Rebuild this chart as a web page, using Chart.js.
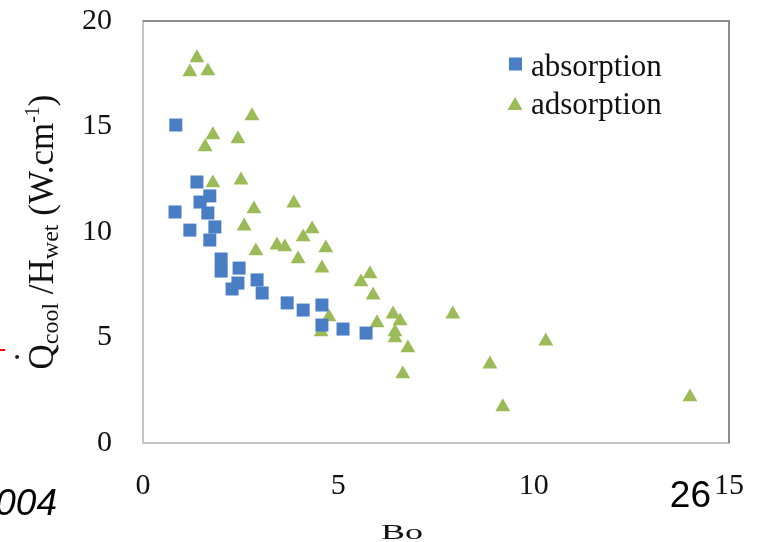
<!DOCTYPE html>
<html>
<head>
<meta charset="utf-8">
<script src="https://cdn.jsdelivr.net/npm/chart.js@4.4.0/dist/chart.umd.min.js"></script>
<style>
    body { margin: 0; background: #fff; }
</style>
</head>
<body>
<canvas id="boChart" width="757" height="542"></canvas>
<script>
// values
const absorptionBo = [0.84, 0.82, 1.20, 1.38, 1.46, 1.71, 1.66, 1.84, 1.71, 2.00, 2.00, 2.46, 2.43, 2.28, 2.92, 3.05, 3.69, 4.10, 4.58, 4.58, 5.12, 5.71];
const absorptionQ = [15.07, 10.95, 10.09, 12.37, 11.42, 11.71, 10.90, 10.24, 9.62, 8.72, 8.15, 8.29, 7.58, 7.30, 7.73, 7.11, 6.64, 6.30, 6.54, 5.59, 5.40, 5.21];

const adsorptionBo = [1.38, 1.20, 1.66, 2.79, 1.79, 2.43, 1.59, 2.51, 1.79, 2.84, 3.86, 2.59, 4.33, 4.10, 3.43, 3.63, 2.89, 4.68, 3.97, 4.58, 5.81, 5.58, 5.89, 4.76, 4.56, 5.99, 6.40, 6.58, 6.45, 6.45, 6.78, 6.65, 7.93, 10.31, 8.88, 9.21, 14.0];
const adsorptionQ = [18.25, 17.58, 17.63, 15.50, 14.60, 14.41, 14.03, 12.46, 12.32, 11.09, 11.37, 10.28, 10.14, 9.76, 9.38, 9.29, 9.10, 9.24, 8.72, 8.29, 8.01, 7.63, 7.01, 5.97, 5.26, 5.69, 6.11, 5.78, 5.26, 4.98, 4.50, 3.27, 6.11, 4.83, 3.74, 1.71, 2.18];

const seriesNames = ['absorption', 'adsorption'];
const xTicks = [0, 5, 10, 15];
const yTicks = [0, 5, 10, 15, 20];

const blue = '#4a7ec4';
const green = '#9bbb59';
const serif = '"Liberation Serif", "Times New Roman", serif';

function toPoints(xs, ys) {
    return xs.map((x, i) => ({ x: x, y: ys[i] }));
}

function marker(ctx, style, x, y, color) {
    ctx.fillStyle = color;
    ctx.beginPath();
    if (style === 'rect') {
        ctx.rect(x - 6.5, y - 6.5, 13, 13);
    } else {
        ctx.moveTo(x, y - 7);
        ctx.lineTo(x + 7.5, y + 6);
        ctx.lineTo(x - 7.5, y + 6);
        ctx.closePath();
    }
    ctx.fill();
}

// top/right frame, legend, axis titles and the slide leftovers
const extras = {
    id: 'extras',
    beforeDatasetsDraw(chart) {
        const { ctx, chartArea: a } = chart;
        ctx.save();
        ctx.strokeStyle = '#8c8c8c';
        ctx.lineWidth = 2;
        ctx.beginPath();
        ctx.moveTo(a.left, a.top);
        ctx.lineTo(a.right, a.top);
        ctx.lineTo(a.right, a.bottom);
        ctx.stroke();
        ctx.restore();
    },
    afterDraw(chart) {
        const { ctx, chartArea: a } = chart;
        ctx.save();

        // legend
        ctx.font = '31px ' + serif;
        ctx.textBaseline = 'alphabetic';
        ctx.textAlign = 'left';
        marker(ctx, 'rect', 515.5, 64, blue);
        ctx.fillStyle = '#111';
        ctx.fillText(seriesNames[0], 531, 76);
        marker(ctx, 'triangle', 515, 104, green);
        ctx.fillStyle = '#111';
        ctx.fillText(seriesNames[1], 531, 114);

        // y title with sub/superscripts
        const parts = [
            { t: 'Q', f: 35, dy: 0 },
            { t: 'cool', f: 24, dy: 5 },
            { t: ' /H', f: 35, dy: 0 },
            { t: 'wet', f: 24, dy: 5 },
            { t: ' (W.cm', f: 35, dy: 0 },
            { t: '-1', f: 20, dy: -14 },
            { t: ')', f: 35, dy: 0 }
        ];
        let total = 0;
        parts.forEach(p => {
            ctx.font = p.f + 'px ' + serif;
            p.w = ctx.measureText(p.t).width;
            total += p.w;
        });
        ctx.translate(53, (a.top + a.bottom) / 2);
        ctx.rotate(-Math.PI / 2);
        let cx = -total / 2;
        ctx.fillStyle = '#111';
        parts.forEach((p, i) => {
            ctx.font = p.f + 'px ' + serif;
            ctx.fillText(p.t, cx, p.dy);
            if (i === 0) {
                ctx.textAlign = 'center';
                ctx.fillText('\u02D9', cx + p.w / 2, -14);
                ctx.textAlign = 'left';
            }
            cx += p.w;
        });
        ctx.setTransform(1, 0, 0, 1, 0, 0);

        // x title
        ctx.save();
        ctx.translate(402, 539);
        ctx.scale(1, 0.6);
        ctx.font = '36px ' + serif;
        ctx.textAlign = 'center';
        ctx.fillText('Bo', 0, 0);
        ctx.restore();

        // leftovers from the slide
        ctx.fillStyle = '#000';
        ctx.font = '37px "Liberation Sans", Arial, sans-serif';
        ctx.textAlign = 'right';
        ctx.fillText('26', 711, 507);
        ctx.font = 'italic 37px "Liberation Sans", Arial, sans-serif';
        ctx.fillText('2004', 57, 515);
        ctx.fillStyle = '#ff0000';
        ctx.fillRect(0, 349, 5, 2);

        ctx.restore();
    }
};

new Chart(document.getElementById('boChart'), {
    type: 'scatter',
    data: {
        datasets: [
            { label: seriesNames[0], data: toPoints(absorptionBo, absorptionQ), pointStyle: 'rect', pointRadius: 9.2, pointBorderWidth: 0, backgroundColor: blue, borderColor: blue },
            { label: seriesNames[1], data: toPoints(adsorptionBo, adsorptionQ), pointStyle: 'triangle', pointRadius: 8.6, pointBorderWidth: 0, backgroundColor: green, borderColor: green }
        ]
    },
    options: {
        responsive: false,
        animation: false,
        layout: { padding: { left: 0, right: 28, top: 21, bottom: 0 } },
        plugins: { legend: { display: false }, tooltip: { enabled: false } },
        scales: {
            x: {
                type: 'linear', min: 0, max: 15,
                afterBuildTicks: s => { s.ticks = xTicks.map(v => ({ value: v })); },
                afterFit: s => { s.height = 99; s.paddingLeft = 0; s.paddingRight = 0; },
                grid: { display: false, drawTicks: false },
                border: { display: true, color: '#c4c4c4', width: 2 },
                ticks: { padding: 25, color: '#111', font: { family: serif, size: 30 } }
            },
            y: {
                type: 'linear', min: 0, max: 20,
                afterBuildTicks: s => { s.ticks = yTicks.map(v => ({ value: v })); },
                afterFit: s => { s.width = 143; s.paddingTop = 0; s.paddingBottom = 0; },
                grid: { display: false, drawTicks: false },
                border: { display: true, color: '#c4c4c4', width: 2 },
                ticks: { padding: 31, color: '#111', font: { family: serif, size: 30 } }
            }
        }
    },
    plugins: [extras]
});
</script>
</body>
</html>
